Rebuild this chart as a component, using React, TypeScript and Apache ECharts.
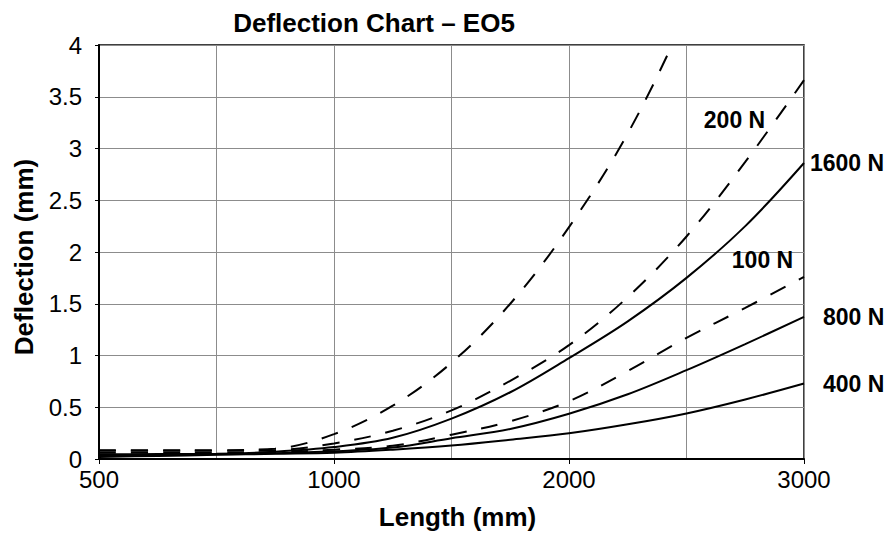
import React, { useEffect, useRef } from "react";
import * as echarts from "echarts";

// Category positions along the length axis (mm); gridlines on every other one,
// labels on every fourth one (500, 1000, 2000, 3000)
const lengths = [
  "500", "625", "750", "875", "1000", "1250", "1500",
  "1750", "2000", "2250", "2500", "2750", "3000",
];

// Deflection (mm)
const deflSteepDashed = [0.085, 0.085, 0.085, 0.1, 0.24, 0.515, 0.93, 1.5, 2.24, 3.145, 4.3, 5.6, 7.2];
const defl200N = [0.08, 0.08, 0.08, 0.085, 0.15, 0.273, 0.47, 0.756, 1.1, 1.564, 2.15, 2.87, 3.66];
const defl1600N = [0.045, 0.048, 0.05, 0.07, 0.115, 0.205, 0.39, 0.645, 0.975, 1.33, 1.75, 2.25, 2.86];
const defl100N = [0.06, 0.06, 0.06, 0.065, 0.09, 0.128, 0.235, 0.365, 0.558, 0.85, 1.17, 1.46, 1.76];
const defl800N = [0.03, 0.038, 0.045, 0.055, 0.075, 0.11, 0.2, 0.29, 0.437, 0.625, 0.858, 1.11, 1.373];
const defl400N = [0.02, 0.03, 0.04, 0.05, 0.06, 0.09, 0.13, 0.186, 0.248, 0.335, 0.44, 0.575, 0.729];

const yTicks = { min: 0, max: 4, interval: 0.5 };

const FONT = "'Liberation Sans', Arial, Helvetica, sans-serif";

export default function App() {
  const ref = useRef<HTMLDivElement | null>(null);

  useEffect(() => {
    if (!ref.current) return;
    const chart = echarts.init(ref.current, undefined, { renderer: "svg" });

    const labelStyle = {
      color: "#000",
      fontFamily: FONT,
      fontWeight: "bold" as const,
      fontSize: 23,
    };

    const baseLine = (name: string, data: number[], dashed: boolean) => ({
      name,
      type: "line" as const,
      data,
      smooth: 0.35,
      symbol: "none",
      clip: true,
      lineStyle: {
        color: "#000",
        width: 2,
        type: dashed ? ([17, 15] as any) : "solid",
      },
      z: 3,
    });

    const endLabel = (text: string, distance: number) => ({
      show: true,
      formatter: text,
      distance,
      ...labelStyle,
    });

    const insideLabel = (text: string, coordY: number, dx: number) => ({
      symbol: "circle",
      symbolSize: 1,
      itemStyle: { color: "rgba(0,0,0,0)" },
      data: [
        {
          coord: ["2500", coordY],
          label: {
            show: true,
            position: "inside",
            offset: [dx, 0],
            formatter: text,
            ...labelStyle,
          },
        },
      ],
    });

    chart.setOption({
      animation: false,
      backgroundColor: "#fff",
      title: {
        text: "Deflection Chart – EO5",
        left: 369,
        textAlign: "center",
        top: 5,
        textStyle: {
          color: "#000",
          fontFamily: FONT,
          fontWeight: "bold",
          fontSize: 26,
        },
      },
      grid: {
        left: 99,
        right: 91,
        top: 45,
        bottom: 80,
        show: true,
        borderColor: "#000",
        borderWidth: 1.5,
        backgroundColor: "transparent",
      },
      xAxis: {
        type: "category",
        data: lengths,
        boundaryGap: false,
        name: "Length (mm)",
        nameLocation: "middle",
        nameGap: 45,
        nameTextStyle: {
          color: "#000",
          fontFamily: FONT,
          fontWeight: "bold",
          fontSize: 26,
          padding: [0, 0, 0, 12],
        },
        axisLine: { show: true, lineStyle: { color: "#000", width: 2 } },
        axisTick: { show: true, interval: 3, length: 5, lineStyle: { color: "#000", width: 1 } },
        axisLabel: {
          interval: 3,
          margin: 8,
          color: "#000",
          fontFamily: FONT,
          fontSize: 24,
        },
        splitLine: { show: true, interval: 1, lineStyle: { color: "#8c8c8c", width: 1 } },
      },
      yAxis: {
        type: "value",
        min: yTicks.min,
        max: yTicks.max,
        interval: yTicks.interval,
        name: "Deflection (mm)",
        nameLocation: "middle",
        nameGap: 62,
        nameTextStyle: {
          color: "#000",
          fontFamily: FONT,
          fontWeight: "bold",
          fontSize: 26,
          padding: [0, 10, 0, 0],
        },
        axisLine: { show: true, lineStyle: { color: "#000", width: 2 } },
        axisTick: { show: true, length: 4, lineStyle: { color: "#000", width: 1 } },
        axisLabel: {
          margin: 17,
          color: "#000",
          fontFamily: FONT,
          fontSize: 24,
        },
        splitLine: { show: true, lineStyle: { color: "#8c8c8c", width: 1 } },
      },
      series: [
        baseLine("Steep dashed", deflSteepDashed, true),
        {
          ...baseLine("200 N", defl200N, true),
          markPoint: insideLabel("200 N", 3.28, 48),
        },
        {
          ...baseLine("1600 N", defl1600N, false),
          endLabel: endLabel("1600 N", 6),
        },
        {
          ...baseLine("100 N", defl100N, true),
          markPoint: insideLabel("100 N", 1.92, 76),
        },
        {
          ...baseLine("800 N", defl800N, false),
          endLabel: endLabel("800 N", 19),
        },
        {
          ...baseLine("400 N", defl400N, false),
          endLabel: endLabel("400 N", 19),
        },
      ],
    });

    return () => chart.dispose();
  }, []);

  return (
    <div
      ref={ref}
      style={{ position: "fixed", left: 0, top: 0, width: 895, height: 539 }}
    />
  );
}
